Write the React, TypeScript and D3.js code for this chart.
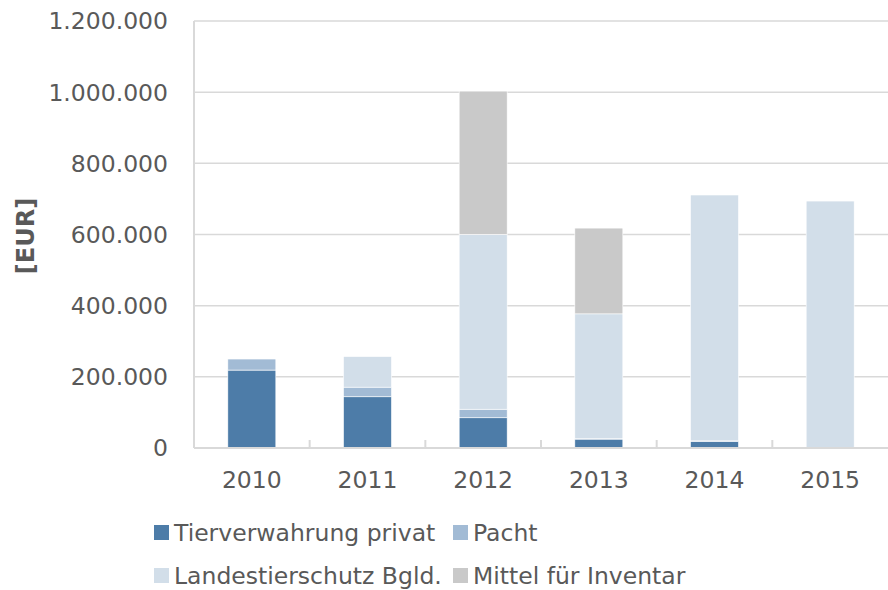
import React from "react";
import * as d3 from "d3";

const years = ["2010", "2011", "2012", "2013", "2014", "2015"];
const seriesNames = ["Tierverwahrung privat", "Pacht", "Landestierschutz Bgld.", "Mittel für Inventar"];
const tierverwahrung = [219000, 144000, 85000, 25000, 19000, 2000];
const pacht = [31000, 27000, 24000, 1000, 1000, 0];
const landestierschutz = [0, 86000, 491000, 351000, 691000, 692000];
const mittel = [0, 0, 403000, 241000, 0, 0];
const yTicks = [0, 200000, 400000, 600000, 800000, 1000000, 1200000];
const colors = ["#4D7CA8", "#A2BBD5", "#D2DEE9", "#C9C9C9"];

const W = 888, H = 590;
const left = 194, right = 888, top = 21, bottom = 448;
const textColor = "#595959";
const gridColor = "#D9D9D9";
const font = "'DejaVu Sans', Verdana, sans-serif";
const fs = 23.5;

const fmt = (v: number) => d3.format(",")(v).replace(/,/g, ".");

export default function App() {
  const x = d3.scaleBand<string>().domain(years).range([left, right]).paddingInner(0.585).paddingOuter(0.2925);
  const y = d3.scaleLinear().domain([0, 1200000]).range([bottom, top]);
  const step = (right - left) / years.length;

  const table = years.map((yr, i) => ({
    year: yr,
    s0: tierverwahrung[i],
    s1: pacht[i],
    s2: landestierschutz[i],
    s3: mittel[i],
  }));
  const stack = d3.stack<any>().keys(["s0", "s1", "s2", "s3"])(table);

  const legendItems = [
    { name: seriesNames[0], color: colors[0], x: 154, y: 532.5 },
    { name: seriesNames[1], color: colors[1], x: 453, y: 532.5 },
    { name: seriesNames[2], color: colors[2], x: 154, y: 575.5 },
    { name: seriesNames[3], color: colors[3], x: 453, y: 575.5 },
  ];

  return (
    <div style={{ position: "absolute", left: 0, top: 0 }}>
      <svg width={W} height={H} style={{ display: "block", background: "#fff" }}>
        {yTicks.slice(1).map((t) => (
          <line key={"g" + t} x1={left} x2={right} y1={y(t)} y2={y(t)} stroke={gridColor} strokeWidth={1.5} />
        ))}
        {stack.map((layer, li) => (
          <g key={li} fill={colors[li]}>
            {layer.map((d, i) =>
              d[1] - d[0] > 0 ? (
                <rect
                  key={i}
                  x={x(years[i])}
                  width={x.bandwidth()}
                  y={y(d[1])}
                  height={y(d[0]) - y(d[1])}
                  stroke="#fff"
                  strokeWidth={0.6}
                />
              ) : null
            )}
          </g>
        ))}
        <line x1={left} x2={left} y1={top} y2={bottom} stroke={gridColor} strokeWidth={2} />
        <line x1={left} x2={right} y1={bottom} y2={bottom} stroke={gridColor} strokeWidth={2} />
        {years.slice(1).map((_, i) => (
          <line key={"t" + i} x1={left + step * (i + 1)} x2={left + step * (i + 1)} y1={bottom - 8} y2={bottom} stroke={gridColor} strokeWidth={2} />
        ))}
        {yTicks.map((t) => (
          <text key={"yl" + t} x={168} y={y(t)} dy="0.36em" textAnchor="end" fill={textColor} fontFamily={font} fontSize={fs}>
            {fmt(t)}
          </text>
        ))}
        {years.map((yr) => (
          <text key={"xl" + yr} x={(x(yr) as number) + x.bandwidth() / 2} y={480} dy="0.36em" textAnchor="middle" fill={textColor} fontFamily={font} fontSize={fs}>
            {yr}
          </text>
        ))}
        <text transform={`translate(25,236) rotate(-90)`} textAnchor="middle" dy="0.36em" fill={textColor} fontFamily={font} fontSize={24} fontWeight="bold">
          [EUR]
        </text>
        {legendItems.map((l) => (
          <g key={l.name}>
            <rect x={l.x} y={l.y - 7.5} width={15} height={15} fill={l.color} />
            <text x={l.x + 20} y={l.y} dy="0.36em" fill={textColor} fontFamily={font} fontSize={fs}>
              {l.name}
            </text>
          </g>
        ))}
      </svg>
    </div>
  );
}
